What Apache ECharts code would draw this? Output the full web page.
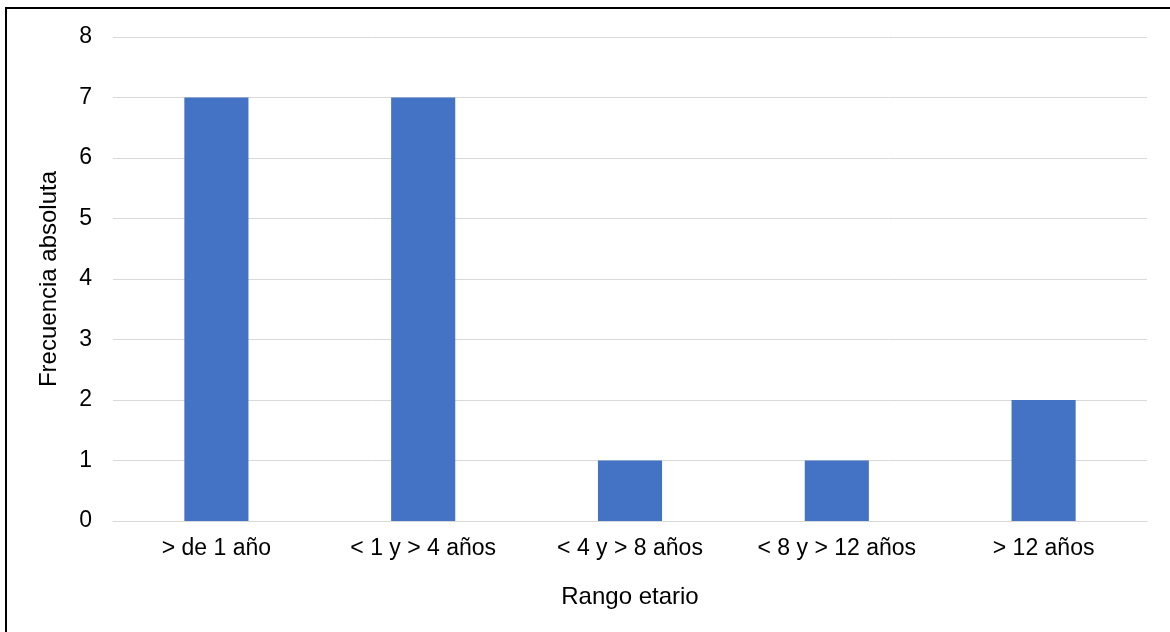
<!DOCTYPE html>
<html>
<head>
<meta charset="utf-8">
<script src="https://cdn.jsdelivr.net/npm/echarts@6/dist/echarts.min.js"></script>
<style>
    html, body { margin: 0; padding: 0; background: #fff; }
    #frame {
        position: absolute; left: 5px; top: 7px; width: 1165px; height: 625px;
        border-top: 2px solid #000; border-left: 2px solid #000;
        box-sizing: border-box;
    }
    #chart { position: absolute; left: 0; top: 0; width: 1170px; height: 632px; }
</style>
</head>
<body>
<div id="frame"></div>
<div id="chart"></div>
<script>
    // categories and values
    let categories = ["> de 1 año", "< 1 y > 4 años", "< 4 y > 8 años", "< 8 y > 12 años", "> 12 años"]
    let frecuencia = [7, 7, 1, 1, 2]
    let yMin = 0
    let yMax = 8

    let chart = echarts.init(document.getElementById("chart"))
    let font = "Liberation Sans, Arial, sans-serif"
    let option = {
        animation: false,
        grid: {
            left: 113,
            right: 23,
            top: 37,
            bottom: 111
        },
        xAxis: {
            type: "category",
            data: categories,
            name: "Rango etario",
            nameLocation: "middle",
            nameGap: 64,
            nameTextStyle: { fontSize: 24, color: "#000", fontFamily: font },
            axisLine: { lineStyle: { color: "#d9d9d9", width: 1 } },
            axisTick: { show: false },
            axisLabel: { fontSize: 23, color: "#000", fontFamily: font, margin: 16, interval: 0 }
        },
        yAxis: {
            type: "value",
            min: yMin,
            max: yMax,
            interval: 1,
            name: "Frecuencia absoluta",
            nameLocation: "middle",
            nameGap: 52,
            nameTextStyle: { fontSize: 24, color: "#000", fontFamily: font },
            axisLine: { show: false },
            axisTick: { show: false },
            axisLabel: { fontSize: 23, color: "#000", fontFamily: font, margin: 21 },
            splitLine: { lineStyle: { color: "#d9d9d9", width: 1 } }
        },
        series: [
            {
                type: "bar",
                data: frecuencia,
                barCategoryGap: "69%",
                itemStyle: { color: "#4472c4" }
            }
        ]
    }
    chart.setOption(option)
</script>
</body>
</html>
